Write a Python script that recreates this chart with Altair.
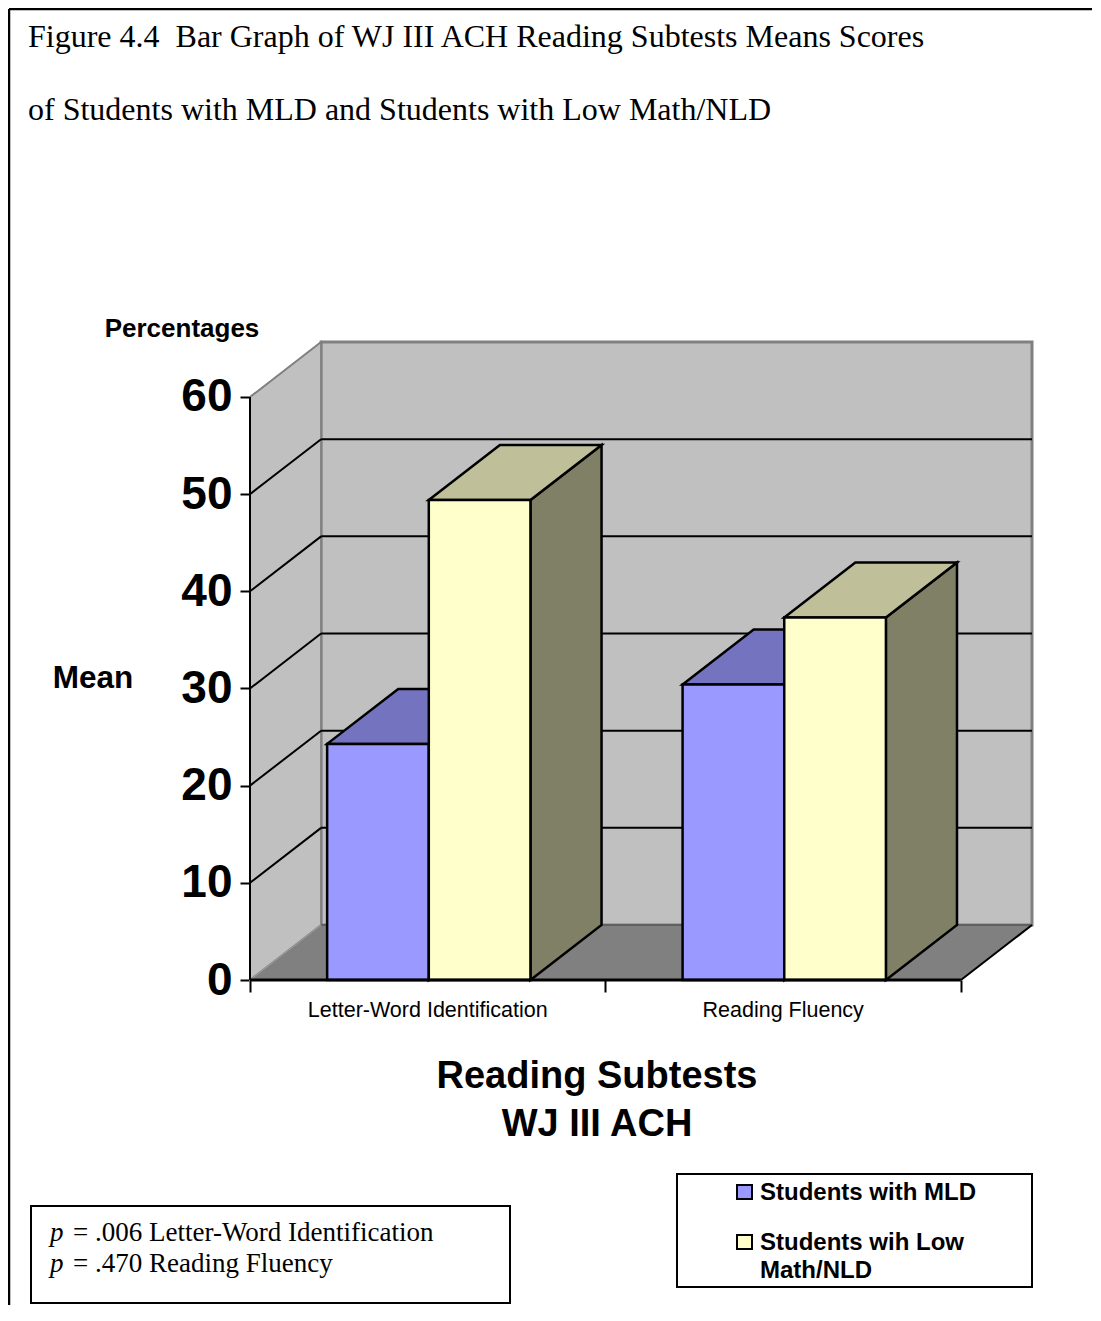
import altair as alt
import pandas as pd

# ---------------- data ----------------
subtests = ["Letter-Word Identification", "Reading Fluency"]
series = ["Students with MLD", "Students wih Low Math/NLD"]
mld_means = [24.3, 30.4]
low_means = [49.4, 37.3]
y_ticks = [0, 10, 20, 30, 40, 50, 60]
x_ticks = [0, 1, 2]

title_lines = ["Figure 4.4\u00a0 Bar Graph of WJ III ACH Reading Subtests Means Scores",
               "of Students with MLD and Students with Low Math/NLD"]
y_title_top = "Percentages"
y_title_side = "Mean"
x_title_lines = ["Reading Subtests", "WJ III ACH"]
legend_lines = [["Students with MLD"], ["Students wih Low", "Math/NLD"]]
p_values = [".006", ".470"]
p_names = ["Letter-Word Identification", "Reading Fluency"]

front_colors = ["#9999ff", "#ffffcc"]
top_colors = ["#7373bf", "#bfbf99"]
side_colors = ["#4d4d80", "#808066"]

SANS = "Liberation Sans, Arial, sans-serif"
SERIF = "Liberation Serif, Times New Roman, serif"

# ---------------- geometry (3-D look) ----------------
NCAT = len(subtests)
YTOP = y_ticks[-1]
DX = 0.2       # depth in x units (one category = 1 unit)
DY = 5.66      # depth in y units
GAP = 0.217
BW = 0.286
XMAX = NCAT + DX
YMAX = YTOP + DY
W, H = 782, 638

xs = alt.Scale(domain=[0, XMAX], nice=False, zero=False)
ys = alt.Scale(domain=[0, YMAX], nice=False, zero=False)
xaxis = alt.Axis(values=x_ticks, labels=False, domain=False, grid=False, ticks=True,
                 tickSize=12, tickWidth=2, tickColor="black", title=None)
yaxis = alt.Axis(values=y_ticks, domain=False, grid=False, tickSize=10, tickWidth=2,
                 tickColor="black", labelFont=SANS, labelFontSize=46, labelFontWeight="bold",
                 labelColor="black", labelPadding=8, labelFlush=False, title=None)


def X(f="x"):
    return alt.X(f"{f}:Q", scale=xs, axis=xaxis)


def Y(f="y"):
    return alt.Y(f"{f}:Q", scale=ys, axis=yaxis)


# walls and floor
back = pd.DataFrame({"x": [DX], "x2": [XMAX], "y": [DY], "y2": [YMAX]})
back_layer = alt.Chart(back).mark_rect(fill="#c0c0c0", stroke="#808080", strokeWidth=3).encode(
    x=X(), x2="x2:Q", y=Y(), y2="y2:Q")

left = pd.DataFrame({"x": [0, DX], "y": [0, DY], "y2": [YTOP, YTOP + DY]})
left_layer = alt.Chart(left).mark_area(fill="#c0c0c0", stroke="#808080", strokeWidth=2, opacity=1).encode(
    x=X(), y=Y(), y2="y2:Q")

floor = pd.DataFrame({"x": [0, DX, NCAT, NCAT + DX], "y": [0, 0, 0, DY], "y2": [0, DY, DY, DY]})
floor_layer = alt.Chart(floor).mark_area(fill="#808080", opacity=1).encode(x=X(), y=Y(), y2="y2:Q")

floor_back = pd.DataFrame({"x": [DX], "x2": [XMAX], "y": [DY]})
floor_back_layer = alt.Chart(floor_back).mark_rule(color="#606060", strokeWidth=2).encode(
    x=X(), x2="x2:Q", y=Y())

inner = y_ticks[1:-1]
grid_back = pd.DataFrame({"x": [DX] * len(inner), "x2": [XMAX] * len(inner), "y": [t + DY for t in inner]})
grid_back_layer = alt.Chart(grid_back).mark_rule(color="black", strokeWidth=2).encode(
    x=X(), x2="x2:Q", y=Y())

grid_side = pd.DataFrame({"x": [0] * len(inner), "x2": [DX] * len(inner), "y": inner,
                          "y2": [t + DY for t in inner]})
grid_side_layer = alt.Chart(grid_side).mark_rule(color="black", strokeWidth=2).encode(
    x=X(), x2="x2:Q", y=Y(), y2="y2:Q")

corner = pd.DataFrame({"x": [0], "x2": [DX], "y": [0], "y2": [DY]})
corner_layer = alt.Chart(corner).mark_rule(color="#a0a0a0", strokeWidth=1).encode(
    x=X(), x2="x2:Q", y=Y(), y2="y2:Q")

# bars
bar_layers = []
for s, vals in enumerate([mld_means, low_means]):
    fr, tp, sd = [], [], []
    for i, v in enumerate(vals):
        x0 = i + GAP + s * BW
        x1 = x0 + BW
        b = f"{s}-{i}"
        fr.append(dict(bar=b, x=x0, x2=x1, y=0, y2=v))
        tp += [dict(bar=b, x=x0, y=v, y2=v), dict(bar=b, x=x0 + DX, y=v, y2=v + DY),
               dict(bar=b, x=x1, y=v, y2=v + DY), dict(bar=b, x=x1 + DX, y=v + DY, y2=v + DY)]
        sd += [dict(bar=b, x=x1, y=0, y2=v), dict(bar=b, x=x1 + DX, y=DY, y2=v + DY)]
    bar_layers.append(alt.Chart(pd.DataFrame(sd)).mark_area(
        fill=side_colors[s], stroke="black", strokeWidth=2.5, opacity=1).encode(
        x=X(), y=Y(), y2="y2:Q", detail="bar:N"))
    bar_layers.append(alt.Chart(pd.DataFrame(tp)).mark_area(
        fill=top_colors[s], stroke="black", strokeWidth=2.5, opacity=1).encode(
        x=X(), y=Y(), y2="y2:Q", detail="bar:N"))
    bar_layers.append(alt.Chart(pd.DataFrame(fr)).mark_rect(
        fill=front_colors[s], stroke="black", strokeWidth=2.5).encode(
        x=X(), x2="x2:Q", y=Y(), y2="y2:Q"))

# axis lines
yline = pd.DataFrame({"x": [0], "y": [0], "y2": [YTOP]})
yline_layer = alt.Chart(yline).mark_rule(color="black", strokeWidth=2).encode(x=X(), y=Y(), y2="y2:Q")
xline = pd.DataFrame({"x": [0], "x2": [NCAT], "y": [0]})
xline_layer = alt.Chart(xline).mark_rule(color="black", strokeWidth=3).encode(x=X(), x2="x2:Q", y=Y())
redge = pd.DataFrame({"x": [NCAT], "x2": [NCAT + DX], "y": [0], "y2": [DY]})
redge_layer = alt.Chart(redge).mark_rule(color="black", strokeWidth=2).encode(
    x=X(), x2="x2:Q", y=Y(), y2="y2:Q")

# category labels
xlab = pd.DataFrame({"x": [i + 0.5 for i in range(NCAT)], "y": [0] * NCAT, "label": subtests})
xlab_layer = alt.Chart(xlab).mark_text(font=SANS, fontSize=21.5, baseline="alphabetic", dy=37,
                                       color="black").encode(x=X(), y=Y(), text="label:N")

# ---------------- annotations (pixel positions relative to the plot origin) ----------------
one = alt.Data(values=[{"a": 1}])


def label(text, px, py, size, font=SANS, weight="normal", align="left", style="normal"):
    return alt.Chart(one).mark_text(text=text, font=font, fontSize=size, fontWeight=weight,
                                    fontStyle=style, align=align, baseline="alphabetic",
                                    color="black").encode(x=alt.value(px), y=alt.value(py))


def box(x1, y1, x2, y2, fill="white", width=2):
    return alt.Chart(one).mark_rect(fill=fill, stroke="black", strokeWidth=width).encode(
        x=alt.value(x1), x2=alt.value(x2), y=alt.value(y1), y2=alt.value(y2))


def line(x1, y1, x2, y2, width=2.5):
    return alt.Chart(one).mark_rule(color="black", strokeWidth=width).encode(
        x=alt.value(x1), x2=alt.value(x2), y=alt.value(y1), y2=alt.value(y2))


ann = []
# page frame
ann.append(line(-241, -333, 842, -333))
ann.append(line(-241, -333, -241, 963))
# titles
ann.append(label(title_lines[0], -222, -295, 32, font=SERIF))
ann.append(label(title_lines[1], -222, -222, 32, font=SERIF))
ann.append(label(y_title_top, -68, -5, 26, weight="bold", align="center"))
ann.append(label(y_title_side, -157, 346, 31.5, weight="bold", align="center"))
ann.append(label(x_title_lines[0], 347, 746, 38, weight="bold", align="center"))
ann.append(label(x_title_lines[1], 347, 794, 38, weight="bold", align="center"))
# legend
ann.append(box(427, 832, 782, 945))
sw_top = [843, 893]
for k in range(len(series)):
    ann.append(box(487, sw_top[k], 502, sw_top[k] + 14, fill=front_colors[k], width=2))
    for j, t in enumerate(legend_lines[k]):
        ann.append(label(t, 510, sw_top[k] + 15 + 28 * j, 24, weight="bold"))
# p-value box
ann.append(box(-219, 864, 260, 961))
p_base = [899, 930]
for k in range(len(p_values)):
    ann.append(label("p", -200, p_base[k], 27, font=SERIF, style="italic"))
    ann.append(label(f"= {p_values[k]} {p_names[k]}", -177, p_base[k], 27, font=SERIF))

chart = alt.layer(
    back_layer, left_layer, floor_layer, floor_back_layer, corner_layer,
    grid_back_layer, grid_side_layer,
    *bar_layers,
    yline_layer, xline_layer, redge_layer, xlab_layer,
    *ann,
).properties(
    width=W, height=H,
    autosize=alt.AutoSizeParams(type="none"),
    padding={"left": 242, "top": 334, "right": 60, "bottom": 325},
).configure_view(strokeWidth=0)

chart.save("out.html", embed_options={"renderer": "svg", "actions": False})
